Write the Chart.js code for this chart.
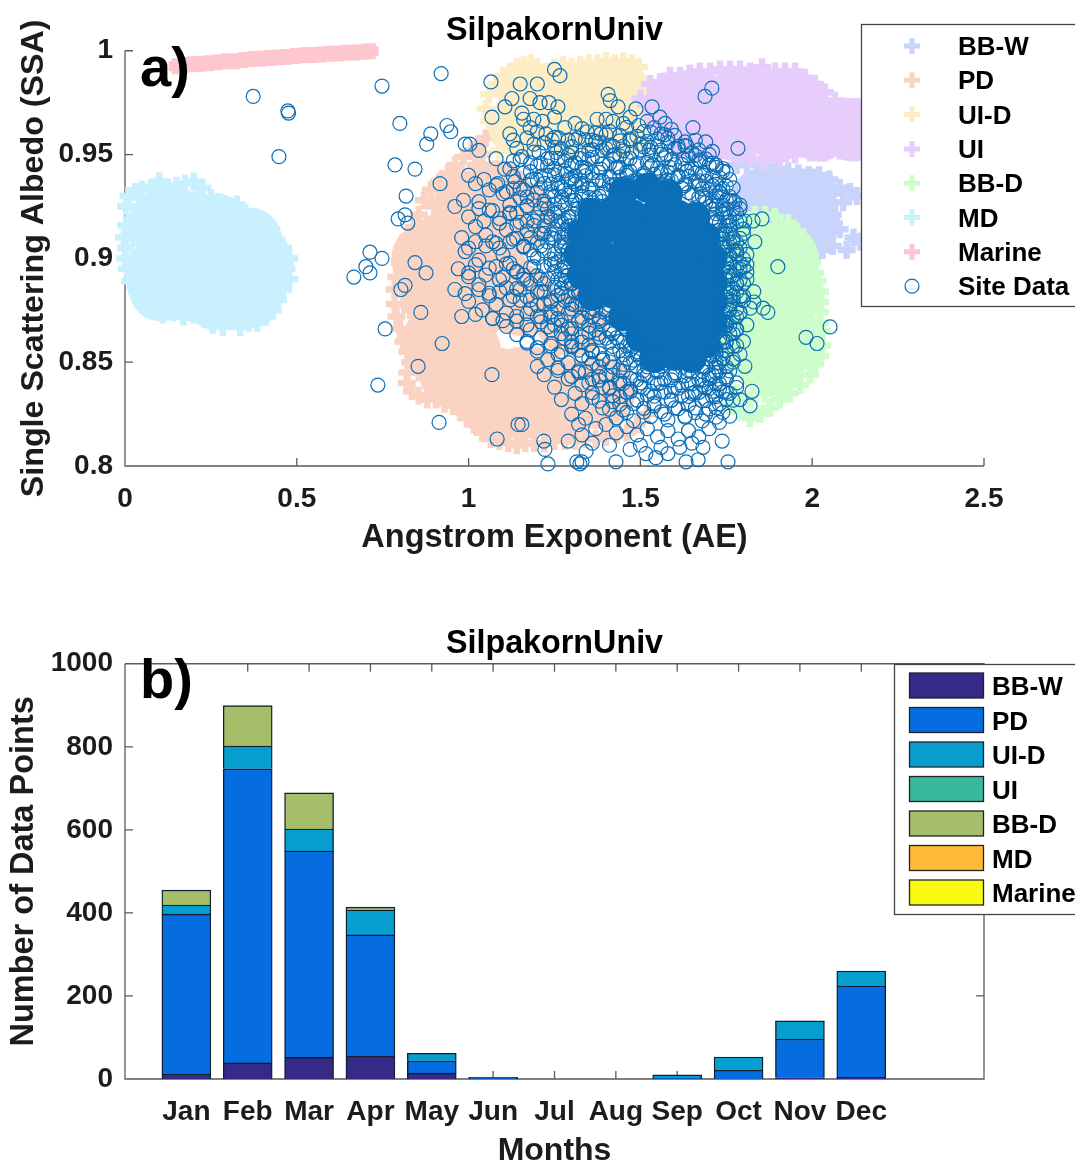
<!DOCTYPE html>
<html>
<head>
<meta charset="utf-8">
<title>SilpakornUniv</title>
<script src="https://cdn.jsdelivr.net/npm/chart.js@4/dist/chart.umd.min.js"></script>
<style>
  body { margin: 0; background: #fff; }
  canvas { position: absolute; left: 0; }
  #scatterChart { top: 0; }
  #barChart { top: 582px; }
</style>
</head>
<body>
<canvas id="scatterChart" width="1075" height="582"></canvas>
<canvas id="barChart" width="1075" height="582"></canvas>
<script>
//Tick labels
var aeTicks = [0, 0.5, 1, 1.5, 2, 2.5];
var ssaTicks = [0.8, 0.85, 0.9, 0.95, 1];
var countTicks = [0, 200, 400, 600, 800, 1000];
var months = ["Jan", "Feb", "Mar", "Apr", "May", "Jun", "Jul", "Aug", "Sep", "Oct", "Nov", "Dec"];
var typeNames = ["BB-W", "PD", "UI-D", "UI", "BB-D", "MD", "Marine"];

//Monthly counts
var bbwCounts = [12, 39, 52, 55, 14, 0, 0, 0, 0, 0, 3, 4];
var pdCounts = [385, 708, 497, 292, 30, 2, 0, 0, 2, 21, 93, 220];
var uidCounts = [22, 55, 53, 60, 18, 2, 0, 0, 8, 32, 44, 36];
var uiCounts = [0, 0, 0, 0, 0, 0, 0, 0, 0, 0, 0, 0];
var bbdCounts = [36, 97, 87, 7, 0, 0, 0, 0, 0, 0, 0, 0];
var mdCounts = [0, 0, 0, 0, 0, 0, 0, 0, 0, 0, 0, 0];
var marineCounts = [0, 0, 0, 0, 0, 0, 0, 0, 0, 0, 0, 0];

//Aerosol type clouds, [AE, SSA]. Core = dense inside of a cloud, Edge = its fringe
var bbwCore = [[1.85,.93],[1.92,.93],[1.99,.93],[1.88,.915],[1.96,.915],[2,.918]];
var bbwEdge = [[1.78,.945],[1.81,.945],[1.84,.945],[1.87,.944],[1.9,.943],[1.93,.942],[1.96,.941],[1.99,.94],[2.02,.94],[2.05,.938],[2.08,.934],[2.11,.932],[2.13,.93],[2.09,.927],[2.05,.925],[2.06,.921],[2.03,.917],[2.03,.912],[2.08,.914],[2.12,.91],[2.14,.908],[2.1,.904],[2.06,.906],[2.03,.904],[2,.9],[1.98,.905],[1.98,.91],[2.04,.93],[2.06,.932]];
var pdCore = [[1,.925],[1,.9],[1,.875],[.93,.905],[.9,.885],[.91,.86],[.99,.855],[1.08,.84],[1.15,.84],[1.27,.835],[1.38,.835],[1.15,.88],[1.15,.92],[1.3,.87],[1.08,.93],[1.08,.89],[.88,.9],[.96,.845],[1.02,.84],[1.2,.84],[1.08,.83],[1.15,.83],[1.27,.83]];
var pdEdge = [[1.05,.958],[1.03,.955],[1.01,.952],[.985,.949],[.96,.945],[.94,.941],[.915,.937],[.89,.933],[.87,.928],[.855,.921],[.84,.915],[.825,.91],[.815,.903],[.8,.898],[.79,.891],[.785,.885],[.785,.878],[.79,.872],[.8,.866],[.81,.86],[.822,.855],[.83,.85],[.822,.845],[.82,.84],[.835,.836],[.855,.834],[.88,.832],[.905,.832],[.93,.83],[.955,.829],[.975,.826],[.995,.823],[1.015,.82],[1.04,.816],[1.065,.813],[1.09,.812],[1.115,.811],[1.14,.81],[1.165,.811],[1.19,.811],[1.22,.811],[1.25,.812],[1.28,.812],[1.31,.812],[1.34,.813],[1.37,.813],[1.4,.814],[1.43,.815],[1.46,.816],[1.49,.82],[1.52,.825],[.86,.905],[.84,.895],[.825,.885],[.83,.875],[.85,.865],[.86,.855],[.855,.845],[.89,.845],[.92,.842],[.955,.84],[.985,.835],[1.02,.83],[1.05,.826],[1.08,.824],[1.11,.822],[1.15,.822],[1.2,.822],[1.25,.822],[1.3,.822],[.9,.925],[.94,.93],[.98,.94],[1.02,.945],[1.04,.95]];
var uidCore = [[1.179,.979],[1.339,.979],[1.44,.979],[1.15,.964],[1.295,.964],[1.44,.964],[1.26,.979]];
var uidEdge = [[1.05,.972],[1.06,.966],[1.06,.979],[1.08,.984],[1.1,.988],[1.12,.99],[1.14,.992],[1.16,.993],[1.18,.994],[1.2,.992],[1.225,.99],[1.25,.992],[1.275,.993],[1.3,.992],[1.325,.993],[1.35,.994],[1.375,.994],[1.4,.995],[1.425,.994],[1.45,.995],[1.475,.994],[1.495,.992],[1.5,.985],[1.5,.978],[1.09,.97],[1.1,.96],[1.09,.952],[1.12,.98],[1.3,.985],[1.22,.982]];
var uiCore = [[1.6,.972],[1.72,.972],[1.85,.972],[1.96,.972],[1.66,.962],[1.78,.962],[1.9,.962],[2.02,.962],[2.12,.962],[1.66,.976],[1.79,.976],[1.91,.976]];
var uiEdge = [[1.5,.977],[1.528,.984],[1.557,.985],[1.586,.988],[1.615,.988],[1.644,.989],[1.673,.99],[1.703,.99],[1.732,.991],[1.761,.991],[1.79,.991],[1.819,.99],[1.854,.992],[1.892,.99],[1.921,.99],[1.95,.99],[1.979,.987],[2.008,.984],[2.037,.98],[2.066,.976],[2.095,.973],[2.125,.969],[2.16,.965],[2.125,.955],[2.08,.952],[2.037,.951],[1.994,.951],[1.95,.95],[1.906,.948],[1.863,.947],[1.819,.948],[1.775,.95],[1.732,.952],[1.688,.954],[1.644,.956]];
var bbdCore = [[1.877,.899],[1.92,.88],[1.935,.861],[1.877,.85],[1.804,.861],[1.804,.885],[1.819,.904],[1.92,.9],[1.86,.87]];
var bbdEdge = [[1.892,.92],[1.93,.917],[1.956,.913],[1.973,.908],[1.988,.903],[1.999,.898],[2.008,.893],[2.017,.889],[2.023,.884],[2.023,.879],[2.023,.874],[2.023,.869],[2.029,.865],[2.029,.858],[2.023,.853],[2.008,.849],[1.994,.844],[1.965,.839],[1.935,.835],[1.906,.832],[1.877,.828],[1.848,.825],[1.819,.823],[1.79,.826],[1.761,.829],[1.863,.921],[1.833,.921],[1.97,.875],[1.97,.855],[1.92,.845],[1.96,.895],[1.985,.885],[1.99,.865],[1.96,.85],[1.93,.845],[1.9,.84],[1.86,.835],[1.9,.91],[1.94,.905],[1.82,.832],[1.78,.835]];
var mdCore = [[.102,.917],[.102,.895],[.105,.885],[.18,.917],[.262,.916],[.18,.885],[.262,.881],[.364,.909],[.364,.882],[.399,.898],[.247,.899]];
var mdEdge = [[.003,.925],[.01,.93],[.03,.932],[.05,.933],[.075,.934],[.1,.937],[.125,.934],[.15,.935],[.175,.936],[.2,.937],[.225,.934],[.25,.929],[.275,.927],[.3,.925],[.325,.926],[.35,.922],[.375,.92],[.4,.917],[.425,.914],[.44,.909],[.46,.905],[.478,.9],[.47,.895],[.478,.89],[.46,.885],[.445,.88],[.43,.875],[.41,.872],[.385,.869],[.36,.869],[.335,.867],[.31,.87],[.285,.867],[.255,.868],[.23,.871],[.2,.873],[.17,.872],[.14,.874],[.11,.873],[.08,.875],[.055,.879],[.035,.884],[.015,.889],[.005,.895],[0,.9],[.003,.905],[-.003,.91],[.003,.916],[.03,.92],[.06,.925],[.09,.928],[.13,.928],[.17,.93],[.21,.928],[.25,.92],[.29,.92],[.33,.918],[.37,.912],[.41,.908],[.44,.9],[.44,.89],[.42,.882],[.39,.875],[.35,.875],[.31,.876],[.27,.874],[.23,.877],[.19,.878],[.15,.879],[.11,.879],[.08,.882],[.05,.887],[.03,.893],[.025,.9],[.025,.91]];
var marinePoints = [[.15,.9925],[.17,.9932],[.195,.9935],[.22,.9938],[.245,.994],[.27,.9945],[.295,.995],[.32,.995],[.345,.9955],[.37,.996],[.395,.9962],[.42,.9965],[.445,.9968],[.47,.997],[.495,.9975],[.52,.9978],[.545,.998],[.57,.9982],[.595,.9985],[.62,.9987],[.645,.999],[.67,.9992],[.695,.9995],[.715,.9998]];

//Solid middle of the site data, then the single rings around it
var siteCore = [[1.45,.932],[1.52,.934],[1.58,.931],[1.36,.922],[1.42,.923],[1.48,.921],[1.55,.923],[1.61,.921],[1.66,.92],[1.33,.912],[1.39,.913],[1.46,.911],[1.52,.912],[1.58,.911],[1.65,.913],[1.69,.91],[1.32,.902],[1.38,.903],[1.44,.901],[1.5,.902],[1.57,.903],[1.63,.901],[1.68,.902],[1.71,.9],[1.33,.892],[1.39,.893],[1.46,.891],[1.52,.892],[1.59,.893],[1.65,.891],[1.7,.892],[1.71,.888],[1.36,.882],[1.42,.883],[1.48,.881],[1.55,.882],[1.61,.883],[1.67,.881],[1.71,.879],[1.45,.872],[1.51,.873],[1.58,.871],[1.64,.872],[1.69,.873],[1.71,.869],[1.5,.862],[1.56,.863],[1.62,.861],[1.67,.862],[1.69,.859],[1.54,.852],[1.6,.853],[1.65,.852]];
var siteRings = [
[.373,.978],[.474,.971],[.476,.97],[.448,.949],[.748,.983],[.92,.989],[.8,.965],[.89,.96],[.878,.955],[.937,.964],[.948,.961],[.786,.945],[.844,.943],[.99,.955],[1.004,.955],[1.03,.952],[1.065,.985],[1.068,.968],[.917,.936],[.818,.93],[.795,.919],[.815,.921],[.823,.917],[.713,.903],[.748,.9],[.701,.896],[.713,.893],[.666,.891],[.844,.898],[.876,.893],[.815,.887],[.803,.885],[.861,.874],[.757,.866],[.923,.859],[.853,.848],[.736,.839],[.914,.821],[1.068,.844],[1.083,.813],[1.144,.82],[1.155,.82],[1.219,.812],[1.222,.808],[1.231,.801],[1.315,.802],[1.324,.801],[1.33,.802],[1.342,.807],
[1.708,.982],[1.688,.978],[1.653,.963],[1.784,.953],[1.636,.954],[1.854,.919],[1.828,.918],[1.804,.918],[1.833,.908],[1.9,.896],[2.052,.867],[1.982,.862],[2.014,.859],[1.857,.876],[1.871,.874],[1.804,.848],[1.825,.836],[1.819,.829],[1.755,.802],[1.738,.812],[1.682,.809],[1.429,.802],[1.516,.806],[1.545,.804],[1.58,.806],[1.633,.802],[1.668,.803],[1.615,.809],
[1.15,.984],[1.2,.984],[1.25,.991],[1.266,.988],[1.126,.977],[1.106,.973],[1.179,.977],[1.208,.975],[1.234,.975],[1.26,.973],[1.155,.97],[1.16,.967],[1.179,.963],[1.19,.967],[1.215,.966],[1.25,.968],[1.28,.963],[1.31,.965],[1.374,.967],[1.12,.96],[1.13,.957],[1.14,.953],[1.17,.958],[1.19,.955],[1.2,.961],[1.225,.96],[1.243,.957],[1.262,.958],[1.29,.957],[1.32,.958],[1.345,.961],[1.36,.957],[1.385,.96],[1.406,.979],[1.412,.976],[1.435,.973],[1.487,.972],[1.534,.973],[1.557,.968],[1.572,.965],[1.4,.967],[1.42,.966],[1.45,.965],[1.47,.968],[1.495,.964],[1.52,.966],[1.54,.963],[1.56,.96],
[1.08,.948],[1.105,.943],[1.13,.947],[1.155,.949],[1.18,.946],[1.205,.951],[1.23,.948],[1.255,.951],[1.28,.947],[1.3,.951],[1.325,.948],[1.35,.952],[1.375,.949],[1.4,.953],[1.425,.95],[1.45,.954],[1.475,.951],[1.5,.955],[1.525,.952],[1.55,.954],[1.575,.95],[1.6,.953],[1.625,.948],[1.65,.951],[1.675,.947],[1.7,.95],[1.72,.945],[1.74,.942],[1.76,.938],[1.77,.934],
[1,.94],[1.02,.936],[1.045,.938],[1.06,.933],[1.085,.936],[1.11,.932],[1.135,.937],[1.16,.933],[1.185,.938],[1.21,.934],[1.235,.94],[1.26,.936],[1.285,.941],[1.31,.937],[1.335,.942],[1.36,.938],[1.385,.943],[1.41,.939],[1.435,.944],[1.46,.94],[1.485,.945],[1.51,.941],[1.535,.945],[1.56,.941],[1.585,.944],[1.61,.94],[1.635,.942],[1.66,.937],[1.685,.94],[1.71,.935],[1.73,.932],[1.75,.928],[1.775,.927],[1.79,.924],[1.74,.922],[1.76,.918],[1.72,.93],
[.96,.925],[.985,.928],[1,.92],[1.03,.924],[1.045,.918],[1.07,.923],[1.09,.917],[1.12,.922],[1.14,.916],[1.17,.925],[1.19,.918],[1.22,.926],[1.24,.919],[1.27,.927],[1.29,.92],[1.31,.928],[1.33,.93],[1.07,.908],[1.09,.905],[1.12,.908],[1.16,.906],[1.18,.91],[1.21,.906],[1.24,.91],[1.27,.906],[1.29,.911],[1.31,.915],[1.02,.908],[1.05,.906],[.98,.91],[1,.905],
[.97,.895],[1,.893],[1.02,.897],[1.05,.892],[1.08,.896],[1.1,.891],[1.13,.895],[1.16,.89],[1.19,.896],[1.21,.89],[1.24,.897],[1.26,.89],[1.28,.896],[.96,.885],[.99,.883],[1.03,.885],[1.06,.882],[1.09,.884],[1.12,.88],[1.15,.885],[1.18,.88],[1.21,.884],[1.24,.879],[1.27,.883],[1.3,.878],[1.32,.884],[1.35,.874],[1.38,.871],[1.4,.875],
[.98,.872],[1.02,.873],[1.07,.871],[1.1,.87],[1.14,.872],[1.17,.868],[1.2,.872],[1.23,.867],[1.26,.871],[1.29,.866],[1.32,.87],[1.35,.864],[1.38,.862],[1.41,.865],[1.44,.86],[1.47,.858],[1.17,.86],[1.2,.857],[1.24,.859],[1.27,.855],[1.3,.858],[1.33,.853],[1.36,.855],[1.39,.851],[1.42,.854],[1.45,.849],[1.48,.851],[1.51,.846],
[1.2,.848],[1.22,.844],[1.26,.846],[1.29,.842],[1.32,.845],[1.35,.84],[1.38,.843],[1.41,.838],[1.44,.841],[1.47,.837],[1.5,.84],[1.53,.836],[1.56,.84],[1.59,.836],[1.62,.839],[1.65,.835],[1.68,.839],[1.71,.836],[1.25,.838],[1.27,.832],[1.31,.835],[1.33,.83],[1.36,.833],[1.39,.828],[1.42,.831],[1.45,.827],[1.48,.83],[1.51,.826],[1.54,.829],[1.57,.825],[1.6,.828],[1.63,.824],[1.66,.828],[1.69,.825],[1.72,.828],[1.75,.832],
[1.3,.825],[1.32,.82],[1.34,.823],[1.37,.818],[1.4,.82],[1.43,.816],[1.46,.819],[1.49,.815],[1.52,.818],[1.55,.814],[1.58,.817],[1.61,.813],[1.64,.817],[1.67,.814],[1.7,.818],[1.73,.821],[1.76,.824],[1.29,.812],[1.33,.815],[1.36,.811],[1.41,.81],[1.47,.808],[1.5,.81],[1.56,.809],[1.65,.811],
[1.72,.918],[1.75,.912],[1.77,.908],[1.74,.905],[1.78,.902],[1.76,.898],[1.79,.895],[1.75,.89],[1.78,.888],[1.81,.89],[1.77,.882],[1.8,.882],[1.83,.884],[1.76,.875],[1.79,.874],[1.82,.876],[1.75,.868],[1.78,.866],[1.81,.868],[1.75,.86],[1.78,.858],[1.8,.86],[1.74,.852],[1.77,.85],[1.72,.845],[1.75,.843],[1.78,.84],[1.7,.842],[1.73,.837],[1.76,.835],[1.79,.832],[1.83,.879],[1.81,.897],[1.79,.905],[1.8,.912],
[1.3,.945],[1.33,.935],[1.28,.933],[1.25,.93],[1.22,.912],[1.26,.918],[1.3,.92],[1.33,.895],[1.29,.9],[1.28,.888],[1.34,.888],[1.37,.875],[1.43,.87],[1.47,.868],[1.49,.855],[1.53,.858],[1.56,.848],[1.6,.845],[1.64,.846],[1.68,.848],[1.72,.855],[1.74,.87],[1.75,.88],[1.74,.895],[1.73,.91],[1.7,.925],[1.68,.93],[1.63,.935],[1.57,.937],[1.5,.937],[1.42,.935],[1.38,.93],[1.31,.908],[1.3,.888]
];
//Second pass over the crowded part of the cloud
var siteRingsDense = [
[1.33,.9625],[1.41,.9612],[1.46,.9631],[1.53,.9608],[1.59,.9622],[1.25,.9583],[1.34,.9571],[1.4,.9595],[1.44,.9566],[1.49,.9588],[1.55,.9574],[1.6,.9592],[1.66,.9569],
[1.22,.9556],[1.3,.9538],[1.37,.9562],[1.42,.9541],[1.47,.9567],[1.53,.9535],[1.58,.9558],[1.63,.9543],[1.69,.9561],
[1.19,.9512],[1.27,.9527],[1.33,.9498],[1.39,.9519],[1.44,.9493],[1.5,.9522],[1.56,.9501],[1.61,.9526],[1.66,.9496],[1.71,.9515],
[1.15,.9476],[1.21,.9458],[1.26,.9482],[1.31,.9461],[1.36,.9487],[1.41,.9455],[1.46,.9478],[1.52,.9462],[1.57,.9484],[1.62,.9453],[1.67,.9475],[1.71,.9459],
[1.12,.9431],[1.18,.9418],[1.23,.9445],[1.28,.9422],[1.33,.9439],[1.38,.9414],[1.43,.9436],[1.47,.9419],[1.53,.9442],[1.58,.9416],[1.63,.9433],[1.68,.9412],[1.72,.9438],[1.75,.9417],
[1.13,.9394],[1.2,.9377],[1.25,.9402],[1.3,.9381],[1.34,.9398],[1.39,.9373],[1.44,.9392],[1.49,.9379],[1.54,.9405],[1.59,.9376],[1.64,.9395],[1.69,.9372],[1.73,.9389],
[1.08,.9352],[1.15,.9337],[1.22,.9361],[1.27,.9343],[1.31,.9358],[1.36,.9332],[1.41,.9355],[1.46,.9364],[1.62,.9339],[1.67,.9353],[1.7,.9331],[1.75,.9348],
[1.1,.9312],[1.17,.9296],[1.24,.9321],[1.29,.9304],[1.33,.9318],[1.37,.9293],[1.65,.9308],[1.69,.9289],[1.73,.9316],[1.76,.9298],
[1.03,.9273],[1.12,.9258],[1.19,.9281],[1.25,.9262],[1.3,.9279],[1.34,.9254],[1.69,.9268],[1.72,.9251],[1.76,.9276],[1.79,.9257],
[1.06,.9233],[1.14,.9218],[1.21,.9241],[1.26,.9222],[1.31,.9237],[1.72,.9215],[1.75,.9238],[1.78,.9219],
[1.09,.9192],[1.17,.9178],[1.23,.9201],[1.28,.9183],[1.72,.9175],[1.75,.9197],[1.79,.9181],
[1.02,.9153],[1.11,.9137],[1.19,.9159],[1.25,.9141],[1.29,.9156],[1.73,.9135],[1.76,.9158],[1.8,.9141],
[1.05,.9112],[1.14,.9097],[1.21,.9118],[1.27,.9101],[1.74,.9116],[1.77,.9095],
[1.08,.9072],[1.16,.9058],[1.23,.9079],[1.28,.9062],[1.75,.9056],[1.78,.9077],
[.99,.9033],[1.1,.9018],[1.18,.9041],[1.25,.9022],[1.29,.9037],[1.75,.9015],[1.78,.9036],[1.81,.9019],
[1.03,.8992],[1.12,.8977],[1.2,.9001],[1.26,.8983],[1.76,.8996],[1.79,.8978],
[1.06,.8953],[1.14,.8938],[1.22,.8961],[1.27,.8942],[1.76,.8935],[1.8,.8957],
[1,.8912],[1.09,.8897],[1.16,.8919],[1.23,.8902],[1.28,.8916],[1.76,.8917],[1.79,.8896],
[1.03,.8873],[1.11,.8858],[1.18,.8879],[1.25,.8862],[1.3,.8876],[1.77,.8856],[1.8,.8878],
[1.06,.8832],[1.13,.8817],[1.2,.8838],[1.26,.8822],[1.31,.8836],[1.76,.8837],[1.79,.8816],
[1,.8793],[1.08,.8778],[1.15,.8798],[1.22,.8782],[1.28,.8797],[1.33,.8776],[1.76,.8776],[1.8,.8797],
[1.04,.8752],[1.11,.8737],[1.18,.8758],[1.24,.8742],[1.3,.8756],[1.35,.8738],[1.4,.8755],[1.76,.8757],[1.79,.8736],
[1.07,.8712],[1.14,.8698],[1.21,.8718],[1.27,.8702],[1.33,.8716],[1.38,.8696],[1.42,.8714],[1.75,.8696],[1.78,.8717],
[1.11,.8672],[1.18,.8657],[1.25,.8678],[1.3,.8662],[1.35,.8676],[1.41,.8655],[1.45,.8673],[1.75,.8676],[1.78,.8656],
[1.14,.8633],[1.21,.8618],[1.27,.8638],[1.33,.8622],[1.38,.8636],[1.43,.8617],[1.74,.8616],[1.77,.8637],
[1.17,.8592],[1.24,.8578],[1.3,.8598],[1.35,.8582],[1.41,.8596],[1.46,.8577],[1.5,.8594],[1.74,.8597],[1.77,.8576],
[1.2,.8553],[1.26,.8538],[1.32,.8558],[1.38,.8542],[1.44,.8556],[1.49,.8537],[1.72,.8536],[1.75,.8557],[1.79,.8538],
[1.23,.8512],[1.29,.8497],[1.35,.8518],[1.41,.8502],[1.46,.8516],[1.52,.8496],[1.7,.8517],[1.73,.8498],[1.77,.8515],
[1.26,.8473],[1.32,.8458],[1.38,.8478],[1.44,.8462],[1.49,.8476],[1.55,.8457],[1.62,.8475],[1.68,.8456],[1.72,.8477],[1.76,.8458],
[1.3,.8432],[1.36,.8418],[1.42,.8438],[1.47,.8422],[1.52,.8436],[1.57,.8417],[1.63,.8435],[1.67,.8416],[1.71,.8437],[1.75,.8418],
[1.33,.8392],[1.39,.8378],[1.45,.8398],[1.5,.8382],[1.55,.8396],[1.6,.8377],[1.65,.8395],[1.69,.8376],[1.73,.8397],[1.78,.8378],
[1.36,.8353],[1.42,.8338],[1.47,.8358],[1.52,.8342],[1.57,.8356],[1.62,.8337],[1.67,.8355],[1.71,.8336],[1.75,.8357],
[1.38,.8312],[1.44,.8297],[1.49,.8318],[1.54,.8302],[1.59,.8316],[1.64,.8296],[1.68,.8315],[1.73,.8298],[1.77,.8317],
[1.41,.8273],[1.46,.8258],[1.51,.8278],[1.56,.8262],[1.61,.8276],[1.66,.8257],[1.7,.8275],[1.74,.8258],
[1.43,.8232],[1.48,.8218],[1.53,.8238],[1.58,.8222],[1.63,.8236],[1.68,.8217],[1.72,.8235]
];
//Third pass, hugging the solid middle
var siteRingsInner = [
[1.37,.9604],[1.44,.9592],[1.51,.9611],[1.57,.9596],[1.31,.9572],[1.38,.9558],[1.47,.9576],[1.52,.9563],[1.58,.9579],[1.63,.9561],
[1.25,.9535],[1.36,.9524],[1.41,.9542],[1.45,.9518],[1.51,.9537],[1.56,.9521],[1.61,.9539],[1.67,.9523],
[1.24,.9483],[1.29,.9497],[1.35,.9478],[1.42,.9495],[1.47,.9481],[1.53,.9498],[1.59,.9476],[1.64,.9493],[1.69,.9479],
[1.2,.9446],[1.25,.9433],[1.3,.9452],[1.34,.9436],[1.39,.9455],[1.44,.9438],[1.49,.9457],[1.55,.9435],[1.6,.9451],[1.65,.9437],[1.7,.9449],[1.74,.9433],
[1.16,.9412],[1.21,.9396],[1.26,.9416],[1.31,.9398],[1.36,.9413],[1.41,.9394],[1.46,.9415],[1.51,.9397],[1.56,.9418],[1.61,.9393],[1.66,.9411],[1.71,.9396],
[1.18,.9375],[1.24,.9358],[1.29,.9379],[1.33,.9361],[1.38,.9376],[1.43,.9357],[1.48,.9373],[1.53,.9362],[1.58,.9378],[1.63,.9359],[1.67,.9374],[1.72,.9356],
[1.13,.9336],[1.2,.9318],[1.26,.9338],[1.3,.9322],[1.35,.9337],[1.39,.9316],[1.43,.9334],[1.64,.9317],[1.68,.9335],[1.72,.9319],[1.74,.9336],
[1.15,.9292],[1.22,.9277],[1.27,.9296],[1.31,.9279],[1.35,.9294],[1.39,.9275],[1.67,.9293],[1.71,.9276],[1.74,.9295],[1.77,.9278],
[1.17,.9254],[1.23,.9238],[1.28,.9257],[1.32,.9241],[1.35,.9256],[1.71,.9237],[1.74,.9255],[1.77,.9239],
[1.12,.9214],[1.2,.9197],[1.25,.9216],[1.29,.9198],[1.33,.9215],[1.71,.9196],[1.74,.9213],[1.76,.9199],
[1.15,.9174],[1.22,.9157],[1.27,.9176],[1.3,.9158],[1.73,.9173],[1.75,.9156],[1.78,.9175],
[1.17,.9133],[1.24,.9116],[1.28,.9135],[1.3,.9118],[1.74,.9134],[1.76,.9117],
[1.13,.9093],[1.2,.9076],[1.25,.9095],[1.28,.9078],[1.74,.9094],[1.76,.9077],[1.79,.9096],
[1.16,.9054],[1.22,.9036],[1.27,.9056],[1.29,.9038],[1.74,.9053],[1.77,.9037],
[1.19,.9012],[1.24,.8996],[1.27,.9015],[1.76,.9013],[1.8,.8997],
[1.11,.8974],[1.18,.8957],[1.25,.8976],[1.28,.8958],[1.75,.8973],[1.78,.8956],
[1.14,.8934],[1.2,.8917],[1.25,.8936],[1.29,.8918],[1.75,.8933],[1.77,.8916],[1.81,.8935],
[1.17,.8895],[1.22,.8878],[1.27,.8897],[1.3,.8879],[1.75,.8894],[1.78,.8877],
[1.14,.8854],[1.22,.8837],[1.27,.8856],[1.32,.8838],[1.75,.8853],[1.78,.8836],
[1.17,.8814],[1.24,.8797],[1.29,.8816],[1.33,.8798],[1.75,.8813],[1.77,.8796],
[1.2,.8774],[1.26,.8757],[1.31,.8776],[1.36,.8758],[1.41,.8775],[1.75,.8773],[1.78,.8756],
[1.17,.8734],[1.24,.8717],[1.29,.8736],[1.36,.8718],[1.4,.8735],[1.74,.8733],[1.77,.8716],
[1.21,.8694],[1.27,.8677],[1.33,.8696],[1.39,.8678],[1.44,.8695],[1.74,.8693],[1.76,.8676],
[1.24,.8654],[1.3,.8637],[1.37,.8656],[1.42,.8638],[1.46,.8655],[1.73,.8653],[1.76,.8636],
[1.28,.8614],[1.33,.8597],[1.4,.8616],[1.45,.8598],[1.49,.8615],[1.73,.8613],[1.75,.8596],
[1.3,.8574],[1.36,.8557],[1.42,.8576],[1.47,.8558],[1.51,.8575],[1.72,.8573],[1.75,.8556],
[1.33,.8534],[1.39,.8517],[1.45,.8536],[1.5,.8518],[1.53,.8535],[1.71,.8533],[1.74,.8516],
[1.36,.8494],[1.42,.8477],[1.47,.8496],[1.52,.8478],[1.57,.8495],[1.69,.8477],[1.72,.8496],[1.75,.8478],
[1.34,.8454],[1.4,.8437],[1.45,.8456],[1.51,.8438],[1.55,.8455],[1.6,.8436],[1.65,.8454],[1.7,.8437],[1.73,.8455],
[1.38,.8414],[1.44,.8397],[1.49,.8416],[1.54,.8398],[1.59,.8415],[1.64,.8396],[1.68,.8414],[1.72,.8397],
[1.41,.8374],[1.46,.8357],[1.51,.8376],[1.56,.8358],[1.61,.8375],[1.66,.8356],[1.7,.8374],[1.74,.8357],
[1.44,.8334],[1.49,.8317],[1.54,.8336],[1.59,.8318],[1.64,.8335],[1.69,.8316],[1.72,.8334]
];

var scatterColors = ["#c8d4fb", "#fbd3c2", "#fcedc5", "#e6cdfb", "#ccfdca", "#c8f0fe", "#fec6cf"];
var siteColor = "#0b6fb8";
var barColors = ["#352a87", "#056de0", "#069ecf", "#38b89c", "#a6be69", "#ffbb38", "#f8fb0f"];
var axisColor = "#5a5a5a";
var textColor = "#1c1c1c";
var fontName = "'Liberation Sans', Arial, sans-serif";

function toPoints(pairs) {
  return pairs.map(function (p) { return { x: p[0], y: p[1] }; });
}

function coreSet(pairs, color, size) {
  return { data: toPoints(pairs), pointStyle: "circle", pointRadius: size, pointBackgroundColor: color, pointBorderWidth: 0, clip: false };
}

function edgeSet(pairs, color) {
  return { data: toPoints(pairs), pointStyle: "cross", pointRadius: 9, pointBorderColor: color, pointBorderWidth: 6.5, clip: false };
}

function axisFont(size) {
  return { family: fontName, size: size, weight: "bold" };
}

//Keep the tick labels in the arrays above instead of letting Chart.js pick them
function fixedTicks(values) {
  return function (scale) {
    scale.ticks = values.map(function (v) { return { value: v }; });
  };
}

//MATLAB style axes: ticks pointing in, painted under the marks
function drawAxes(chart, boxed) {
  var ctx = chart.ctx;
  var area = chart.chartArea;
  var len = 8;
  ctx.save();
  ctx.strokeStyle = axisColor;
  ctx.lineWidth = 1.3;
  ctx.beginPath();
  chart.scales.x.ticks.forEach(function (t, i) {
    if (t.label === "") return;
    var px = chart.scales.x.getPixelForTick(i);
    ctx.moveTo(px, area.bottom);
    ctx.lineTo(px, area.bottom - len);
    if (boxed) {
      ctx.moveTo(px, area.top);
      ctx.lineTo(px, area.top + len);
    }
  });
  chart.scales.y.ticks.forEach(function (t, i) {
    var py = chart.scales.y.getPixelForTick(i);
    ctx.moveTo(area.left, py);
    ctx.lineTo(area.left + len, py);
    if (boxed) {
      ctx.moveTo(area.right, py);
      ctx.lineTo(area.right - len, py);
    }
  });
  ctx.moveTo(area.left, area.top);
  ctx.lineTo(area.left, area.bottom);
  ctx.lineTo(area.right, area.bottom);
  if (boxed) {
    ctx.lineTo(area.right, area.top);
    ctx.lineTo(area.left, area.top);
  }
  ctx.stroke();
  ctx.restore();
}

function panelLabel(ctx, text, x, y) {
  ctx.fillStyle = "#000";
  ctx.font = "bold 56px " + fontName;
  ctx.textAlign = "left";
  ctx.textBaseline = "alphabetic";
  ctx.fillText(text, x, y);
}

function legendText(ctx, text, x, y) {
  ctx.fillStyle = "#000";
  ctx.font = "bold 26px " + fontName;
  ctx.textAlign = "left";
  ctx.textBaseline = "middle";
  ctx.fillText(text, x, y + 2);
}

function legendBox(ctx, x, y, w, h) {
  ctx.fillStyle = "#fff";
  ctx.fillRect(x, y, w, h);
  ctx.strokeStyle = "#444";
  ctx.lineWidth = 1.3;
  ctx.strokeRect(x, y, w, h);
}

var scatterOverlay = {
  id: "scatterOverlay",
  beforeDatasetsDraw: function (chart) {
    drawAxes(chart, false);
  },
  afterDatasetsDraw: function (chart) {
    var ctx = chart.ctx;
    panelLabel(ctx, "a)", 140, 86);
    legendBox(ctx, 861.5, 24.5, 220, 282);
    ctx.save();
    typeNames.concat(["Site Data"]).forEach(function (name, i) {
      var y = 46 + i * 34.3;
      if (i < typeNames.length) {
        ctx.strokeStyle = scatterColors[i];
        ctx.lineWidth = 5;
        ctx.beginPath();
        ctx.moveTo(904, y);
        ctx.lineTo(920, y);
        ctx.moveTo(912, y - 8);
        ctx.lineTo(912, y + 8);
        ctx.stroke();
      } else {
        ctx.strokeStyle = siteColor;
        ctx.lineWidth = 1.2;
        ctx.beginPath();
        ctx.arc(912, y, 7, 0, Math.PI * 2);
        ctx.stroke();
      }
      legendText(ctx, name, 958, y);
    });
    ctx.restore();
  }
};

var barOverlay = {
  id: "barOverlay",
  beforeDatasetsDraw: function (chart) {
    drawAxes(chart, true);
  },
  afterDatasetsDraw: function (chart) {
    var ctx = chart.ctx;
    panelLabel(ctx, "b)", 140, 116);
    legendBox(ctx, 894.5, 82.5, 190, 250);
    ctx.save();
    typeNames.forEach(function (name, i) {
      var y = 104 + i * 34.5;
      ctx.fillStyle = barColors[i];
      ctx.strokeStyle = "#222";
      ctx.lineWidth = 1.3;
      ctx.fillRect(909.5, y - 13, 74, 25);
      ctx.strokeRect(909.5, y - 13, 74, 25);
      legendText(ctx, name, 992, y);
    });
    ctx.restore();
  }
};

//Start of scatter chart settings
//Chart.js paints the first dataset last, so the site data goes first
var ringStyle = { pointStyle: "circle", pointRadius: 7, pointBackgroundColor: "rgba(0,0,0,0)", pointBorderColor: siteColor, pointBorderWidth: 1.2, clip: false };
var sctx = document.getElementById("scatterChart").getContext("2d");
var scatterChart = new Chart(sctx, {
  type: "scatter",
  data: {
    datasets: [
      Object.assign({ label: "Site Data", data: toPoints(siteRings.concat(siteRingsDense, siteRingsInner)) }, ringStyle),
      coreSet(siteCore, siteColor, 15),
      { label: "Marine", data: toPoints(marinePoints), pointStyle: "cross", pointRadius: 8, pointBorderColor: scatterColors[6], pointBorderWidth: 10, clip: false },
      edgeSet(mdEdge, scatterColors[5]),
      coreSet(mdCore, scatterColors[5], 32),
      edgeSet(bbdEdge, scatterColors[4]),
      coreSet(bbdCore, scatterColors[4], 34),
      edgeSet(uiEdge, scatterColors[3]),
      coreSet(uiCore, scatterColors[3], 32),
      edgeSet(uidEdge, scatterColors[2]),
      coreSet(uidCore, scatterColors[2], 32),
      edgeSet(pdEdge, scatterColors[1]),
      coreSet(pdCore, scatterColors[1], 36),
      edgeSet(bbwEdge, scatterColors[0]),
      coreSet(bbwCore, scatterColors[0], 28)
    ],
  },
  options: {
    responsive: false,
    animation: false,
    layout: { padding: { right: 91 } },
    plugins: {
      legend: { display: false },
      tooltip: { enabled: false },
      title: {
        display: true,
        text: "SilpakornUniv",
        fullSize: false,
        color: "#000",
        font: axisFont(32.3),
        padding: { top: 12, bottom: 0 },
      },
    },
    scales: {
      x: {
        type: "linear",
        min: 0,
        max: 2.5,
        afterBuildTicks: fixedTicks(aeTicks),
        afterFit: function (s) { s.height = 116; },
        grid: { display: false, drawTicks: false },
        border: { display: false },
        ticks: { color: textColor, font: axisFont(28), padding: 16, maxRotation: 0, callback: function (v) { return String(v); } },
        title: { display: true, text: "Angstrom Exponent (AE)", color: textColor, font: axisFont(32.5), padding: { top: 0, bottom: 24 } },
      },
      y: {
        min: 0.8,
        max: 1,
        afterBuildTicks: fixedTicks(ssaTicks),
        afterFit: function (s) { s.width = 125; },
        grid: { display: false, drawTicks: false },
        border: { display: false },
        ticks: { color: textColor, font: axisFont(28), padding: 12, callback: function (v) { return String(v); } },
        title: { display: true, text: "Single Scattering Albedo (SSA)", color: textColor, font: axisFont(32.2), padding: { top: 15, bottom: 0 } },
      },
    },
  },
  plugins: [scatterOverlay],
});
//End of scatter chart settings

//Start of bar chart settings
var countSeries = [bbwCounts, pdCounts, uidCounts, uiCounts, bbdCounts, mdCounts, marineCounts];
var bctx = document.getElementById("barChart").getContext("2d");
var barChart = new Chart(bctx, {
  type: "bar",
  data: {
    datasets: countSeries.map(function (counts, i) {
      return {
        label: typeNames[i],
        //a zero count would still leave a black line on the axis
        data: counts.map(function (c, m) { return { x: m + 1, y: c > 0 ? c : null }; }),
        backgroundColor: barColors[i],
        borderColor: "#10202e",
        borderWidth: 1.4,
        barThickness: 49,
      };
    }),
  },
  options: {
    responsive: false,
    animation: false,
    layout: { padding: { right: 91 } },
    plugins: {
      legend: { display: false },
      tooltip: { enabled: false },
      title: {
        display: true,
        text: "SilpakornUniv",
        fullSize: false,
        color: "#000",
        font: axisFont(32.3),
        padding: { top: 43, bottom: 0 },
      },
    },
    scales: {
      x: {
        type: "linear",
        stacked: true,
        offset: false,
        min: 0,
        max: 14,
        afterBuildTicks: fixedTicks(months.map(function (m, i) { return i + 1; })),
        afterFit: function (s) { s.height = 85; },
        grid: { display: false, drawTicks: false },
        border: { display: false },
        ticks: { color: textColor, font: axisFont(28), padding: 16, autoSkip: false, maxRotation: 0, callback: function (v) { return months[v - 1]; } },
        title: { display: true, text: "Months", color: textColor, font: { family: fontName, size: 32, weight: "bold", lineHeight: 0.8 }, padding: { top: 0, bottom: 0 } },
      },
      y: {
        stacked: true,
        min: 0,
        max: 1000,
        afterBuildTicks: fixedTicks(countTicks),
        afterFit: function (s) { s.width = 125; },
        grid: { display: false, drawTicks: false },
        border: { display: false },
        ticks: { color: textColor, font: axisFont(28), padding: 12, callback: function (v) { return String(v); } },
        title: { display: true, text: "Number of Data Points", color: textColor, font: axisFont(32.5), padding: { top: 5, bottom: 0 } },
      },
    },
  },
  plugins: [barOverlay],
});
//End of bar chart settings
</script>
</body>
</html>
